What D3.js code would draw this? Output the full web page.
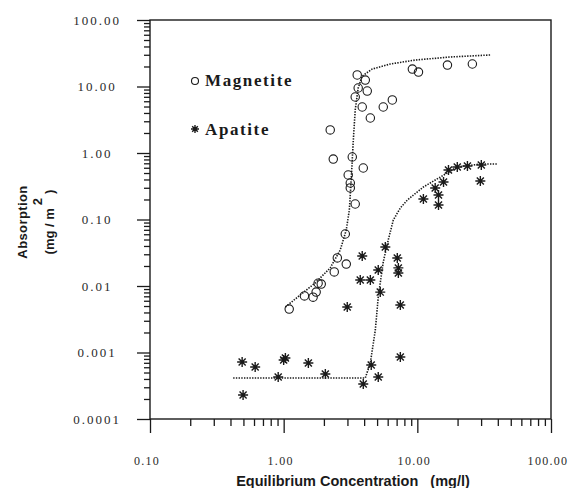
<!DOCTYPE html>
<html>
<head>
<meta charset="utf-8">
<script src="https://cdn.jsdelivr.net/npm/d3@7"></script>
<style>
  body { margin: 0; background: #fff; }
  svg { display: block; }
</style>
</head>
<body>
<div id="plot"></div>
<script>

// values
var magnetiteX = [1.10, 1.43, 1.75, 1.66, 1.91, 1.81, 2.39, 2.94, 2.52, 2.89, 3.43, 3.15, 3.15, 3.04, 3.26, 3.94,
    2.35, 2.23, 4.45, 3.87, 3.43, 4.22, 3.61, 4.08, 3.55, 5.56, 6.50, 9.18, 10.2, 16.8, 25.8];
var magnetiteY = [0.0045, 0.0071, 0.0081, 0.0068, 0.0107, 0.011, 0.0163, 0.0214, 0.0264, 0.0605, 0.171, 0.298, 0.354, 0.467, 0.871, 0.595,
    0.81, 2.22, 3.36, 4.92, 6.95, 8.55, 9.49, 12.5, 14.9, 4.92, 6.27, 18.3, 16.5, 21.0, 21.8];

var apatiteX = [0.489, 0.612, 0.497, 1.03, 1.0, 0.91, 1.53, 2.05, 2.99, 3.94, 4.52, 5.10, 3.87, 3.74, 4.45, 5.10,
    5.28, 5.76, 7.08, 7.21, 7.21, 7.46, 7.46, 11.1, 14.4, 13.6, 14.4, 15.7, 17.1, 19.9, 23.7, 30.1, 29.6];
var apatiteY = [0.00072, 0.000605, 0.00023, 0.000827, 0.00077, 0.000428, 0.000695, 0.000475, 0.00483, 0.000336, 0.000649, 0.000428, 0.0283, 0.0123, 0.0123, 0.0174,
    0.0081, 0.0386, 0.0264, 0.0187, 0.0157, 0.00518, 0.000855, 0.203, 0.165, 0.298, 0.233, 0.366, 0.555, 0.616, 0.638, 0.66, 0.379];

// fitted (dotted) curves
var magnetiteFitX = [1.03, 1.33, 1.72, 2.23, 2.65, 2.94, 3.10, 3.20, 3.32, 3.43, 3.61, 3.87, 4.60, 6.28, 9.66, 17.7, 35.2];
var magnetiteFitY = [0.00483, 0.00733, 0.0111, 0.0187, 0.0348, 0.0695, 0.139, 0.393, 1.57, 4.43, 9.5, 14.4, 18.3, 21.8, 25.0, 27.8, 29.8];

var apatiteFitX = [0.419, 1.33, 4.08, 4.45, 4.85, 5.10, 5.56, 6.06, 6.61, 7.46, 8.41, 11.1, 14.9, 19.9, 29.6, 39.7];
var apatiteFitY = [0.000414, 0.000414, 0.000414, 0.000695, 0.00218, 0.00683, 0.0230, 0.0492, 0.0983, 0.149, 0.196, 0.308, 0.436, 0.616, 0.683, 0.683];

var xTickValues = [0.1, 1, 10, 100];
var xTickLabels = ["0.10", "1.00", "10.00", "100.00"];
var yTickValues = [100, 10, 1, 0.1, 0.01, 0.001, 0.0001];
var yTickLabels = ["100.00", "10.00", "1.00", "0.10", "0.01", "0.001", "0.0001"];

var seriesNames = ["Magnetite", "Apatite"];

var width = 571, height = 488;
var ink = "#1a1a1a";

var svg = d3.select("#plot").append("svg")
    .attr("width", width)
    .attr("height", height);

var x = d3.scaleLog().domain([0.1, 100]).range([150, 551]);
var y = d3.scaleLog().domain([0.0001, 100]).range([419, 20]);

// 8-spoke asterisk marker
var star = {
    draw: function(ctx, size) {
        var r = Math.sqrt(size) / 2;
        for (var k = 0; k < 4; k++) {
            var a = k * Math.PI / 4;
            ctx.moveTo(Math.cos(a) * r, Math.sin(a) * r);
            ctx.lineTo(-Math.cos(a) * r, -Math.sin(a) * r);
        }
    }
};

// frame
svg.append("rect")
    .attr("x", x(0.1)).attr("y", y(100))
    .attr("width", x(100) - x(0.1)).attr("height", y(0.0001) - y(100))
    .attr("fill", "none").attr("stroke", ink).attr("stroke-width", 1.4);

var isMajor = function(v) { return Math.abs(Math.log10(v) - Math.round(Math.log10(v))) < 1e-6; };

// left axis ticks
svg.append("g").attr("transform", "translate(" + x(0.1) + ",0)")
    .call(d3.axisLeft(y).tickValues(yTickValues).tickSize(13).tickFormat(""))
    .call(function(g) { g.select(".domain").remove(); });
svg.append("g").attr("transform", "translate(" + x(0.1) + ",0)")
    .call(d3.axisLeft(y).tickValues(y.ticks().filter(function(v) { return !isMajor(v); })).tickSize(6).tickFormat(""))
    .call(function(g) { g.select(".domain").remove(); });

// bottom axis ticks
svg.append("g").attr("transform", "translate(0," + y(0.0001) + ")")
    .call(d3.axisBottom(x).tickValues(xTickValues).tickSize(14).tickFormat(""))
    .call(function(g) { g.select(".domain").remove(); });
svg.append("g").attr("transform", "translate(0," + y(0.0001) + ")")
    .call(d3.axisBottom(x).tickValues(x.ticks().filter(function(v) { return !isMajor(v); })).tickSize(7).tickFormat(""))
    .call(function(g) { g.select(".domain").remove(); });

svg.selectAll(".tick line").attr("stroke", ink).attr("stroke-width", 1.3);

// tick labels
svg.append("g").selectAll("text")
    .data(yTickValues)
    .enter().append("text")
    .attr("x", 97)
    .attr("y", function(d) { return y(d); })
    .attr("dy", "0.35em")
    .attr("text-anchor", "middle")
    .style("font-family", "'Liberation Serif', serif")
    .style("font-size", "13px")
    .style("letter-spacing", "2px")
    .attr("fill", "#2a2a2a")
    .text(function(d, i) { return yTickLabels[i]; });

svg.append("g").selectAll("text")
    .data(xTickValues)
    .enter().append("text")
    .attr("x", function(d) { return x(d) - 3; })
    .attr("y", 465)
    .attr("text-anchor", "middle")
    .style("font-family", "'Liberation Serif', serif")
    .style("font-size", "12px")
    .style("letter-spacing", "1.3px")
    .attr("fill", "#2a2a2a")
    .text(function(d, i) { return xTickLabels[i]; });

// axis titles
svg.append("text")
    .attr("x", 353).attr("y", 486)
    .attr("text-anchor", "middle")
    .style("font-family", "'Liberation Sans', Arial, sans-serif")
    .style("font-weight", "bold")
    .style("font-size", "14.5px")
    .attr("fill", ink)
    .text("Equilibrium Concentration\u00a0\u00a0 (mg/l)");

var yt = svg.append("g").attr("transform", "translate(0,222) rotate(-90)");
yt.append("text")
    .attr("x", 0).attr("y", 27)
    .attr("text-anchor", "middle")
    .style("font-family", "'Liberation Sans', Arial, sans-serif")
    .style("font-weight", "bold")
    .style("font-size", "13px")
    .style("letter-spacing", "0.4px")
    .attr("fill", ink)
    .text("Absorption");
var yt2 = yt.append("text")
    .attr("x", 0).attr("y", 54)
    .attr("text-anchor", "middle")
    .style("font-family", "'Liberation Sans', Arial, sans-serif")
    .style("font-weight", "bold")
    .style("font-size", "13px")
    .attr("fill", ink);
yt2.append("tspan").text("(mg / m");
yt2.append("tspan").attr("dy", -12).attr("dx", 3).text("2");
yt2.append("tspan").attr("dy", 12).attr("dx", 4).text(")");

// fitted curves
var line = d3.line()
    .x(function(d) { return x(d[0]); })
    .y(function(d) { return y(d[1]); });

[[magnetiteFitX, magnetiteFitY], [apatiteFitX, apatiteFitY]].forEach(function(s) {
    svg.append("path")
        .datum(d3.zip(s[0], s[1]))
        .attr("d", line)
        .attr("fill", "none")
        .attr("stroke", ink)
        .attr("stroke-width", 1.6)
        .attr("stroke-dasharray", "1.4,1.3");
});

// points
svg.append("g").selectAll("circle")
    .data(d3.zip(magnetiteX, magnetiteY))
    .enter().append("circle")
    .attr("cx", function(d) { return x(d[0]); })
    .attr("cy", function(d) { return y(d[1]); })
    .attr("r", 4.2)
    .attr("fill", "none")
    .attr("stroke", ink)
    .attr("stroke-width", 1.1);

var starPath = d3.symbol().type(star).size(100);
svg.append("g").selectAll("path")
    .data(d3.zip(apatiteX, apatiteY))
    .enter().append("path")
    .attr("transform", function(d) { return "translate(" + x(d[0]) + "," + y(d[1]) + ")"; })
    .attr("d", starPath)
    .attr("fill", "none")
    .attr("stroke", ink)
    .attr("stroke-width", 1.4);

// legend
var legend = svg.append("g");
legend.append("circle")
    .attr("cx", 195).attr("cy", 81).attr("r", 3.5)
    .attr("fill", "none").attr("stroke", ink).attr("stroke-width", 1.1);
legend.append("path")
    .attr("transform", "translate(195,129)")
    .attr("d", d3.symbol().type(star).size(64))
    .attr("fill", "none").attr("stroke", ink).attr("stroke-width", 1.4);
legend.selectAll("text")
    .data(seriesNames)
    .enter().append("text")
    .attr("x", 205)
    .attr("y", function(d, i) { return i === 0 ? 86 : 135; })
    .style("font-family", "'Liberation Serif', serif")
    .style("font-weight", "bold")
    .style("font-size", "17px")
    .style("letter-spacing", "1.6px")
    .attr("fill", ink)
    .text(function(d) { return d; });

</script>
</body>
</html>
